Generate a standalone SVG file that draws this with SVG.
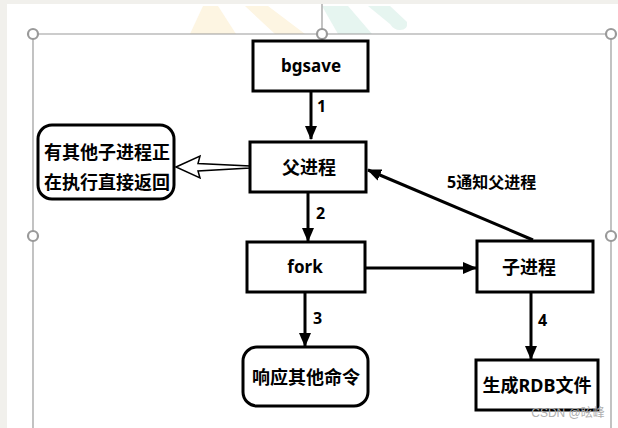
<svg xmlns="http://www.w3.org/2000/svg" width="618" height="428" viewBox="0 0 618 428">
<defs>
<style>
.box{fill:#fff;stroke:#000;stroke-width:3}
.t{font-family:"Noto Sans","Noto Sans CJK SC",sans-serif;font-weight:bold;font-size:17px;fill:#000;text-anchor:middle;dominant-baseline:central}
.c{font-size:18px}
.lbl{font-family:"Noto Sans","Noto Sans CJK SC",sans-serif;font-weight:bold;font-size:16px;fill:#000;dominant-baseline:central}
.ln{stroke:#000;stroke-width:3;fill:none}
.frame{stroke:#9a9a9a;stroke-width:1.2;fill:none}
.hd{fill:#fff;stroke:#9a9a9a;stroke-width:2.2}
</style>
<marker id="ah" viewBox="0 0 14 12" refX="13" refY="6" markerWidth="14" markerHeight="12" markerUnits="userSpaceOnUse" orient="auto">
<path d="M0,0 L14,6 L0,12 Z" fill="#000"/>
</marker>
</defs>
<rect x="0" y="0" width="618" height="428" fill="#f1f0ec"/>
<rect x="7" y="4" width="611" height="424" fill="#fff"/>
<g id="watermark" opacity="0.9">
<polygon points="190,34 203,6 218,6 236,34" fill="#fdf4df"/>
<polygon points="245,6 268,6 305,34 275,34" fill="#fdf4df"/>
<polygon points="322,6 348,6 372,34 338,34" fill="#e4f4ef"/>
<path d="M368,6 L390,6 L407,22 Q408,30 400,30 Q394,30 390,24 Z" fill="#e4f4ef"/>
</g>
<g id="frame">
<line x1="322" y1="4" x2="322" y2="30" class="frame"/>
<line x1="33" y1="34" x2="611" y2="34" class="frame"/>
<line x1="33" y1="34" x2="33" y2="428" class="frame"/>
<line x1="611" y1="34" x2="611" y2="428" class="frame"/>
<circle cx="33" cy="34" r="5" class="hd"/>
<circle cx="322" cy="34" r="5" class="hd"/>
<circle cx="611" cy="34" r="5" class="hd"/>
<circle cx="33" cy="236" r="5" class="hd"/>
<circle cx="611" cy="236" r="5" class="hd"/>
</g>
<g id="connectors">
<line x1="311" y1="91" x2="311" y2="139" class="ln" marker-end="url(#ah)"/>
<text x="317" y="106" class="lbl">1</text>
<line x1="308" y1="192" x2="308" y2="241" class="ln" marker-end="url(#ah)"/>
<text x="316" y="213" class="lbl">2</text>
<line x1="305" y1="292" x2="305" y2="346" class="ln" marker-end="url(#ah)"/>
<text x="313" y="318" class="lbl">3</text>
<line x1="531" y1="292" x2="531" y2="359" class="ln" marker-end="url(#ah)"/>
<text x="538" y="320" class="lbl">4</text>
<line x1="533" y1="240" x2="368" y2="170" class="ln" marker-end="url(#ah)"/>
<line x1="365" y1="268" x2="476" y2="268" class="ln" marker-end="url(#ah)"/>
<text x="447" y="182" class="lbl">5通知父进程</text>
<path d="M176,167 L200,156 L198,163.5 L250,166 L250,168 L198,171 L200,178 Z" fill="#fff" stroke="#000" stroke-width="1.5" stroke-linejoin="miter"/>
</g>
<g id="bgsave">
<rect x="253" y="41" width="115" height="50" class="box"/>
<text x="311" y="65" class="t">bgsave</text>
</g>
<g id="parent">
<rect x="250" y="142" width="116" height="50" class="box"/>
<text x="309" y="167" class="t c">父进程</text>
</g>
<g id="other">
<rect x="38" y="125" width="136" height="74" rx="14" class="box"/>
<text x="107" y="152" class="t c">有其他子进程正</text>
<text x="107" y="182" class="t c">在执行直接返回</text>
</g>
<g id="fork">
<rect x="247" y="242" width="118" height="50" class="box"/>
<text x="305" y="266" class="t">fork</text>
</g>
<g id="child">
<rect x="477" y="241" width="116" height="51" class="box"/>
<text x="529" y="267" class="t c">子进程</text>
</g>
<g id="respond">
<rect x="243" y="347" width="125" height="59" rx="14" class="box"/>
<text x="306" y="377" class="t c">响应其他命令</text>
</g>
<g id="rdb">
<rect x="476" y="360" width="122" height="50" class="box"/>
<text x="537" y="385" class="t c">生成RDB文件</text>
</g>
<text x="568" y="413" font-family="'Liberation Sans','Noto Sans CJK SC',sans-serif" font-size="12" fill="#b0b0b0" text-anchor="middle" dominant-baseline="central">CSDN @昡峰</text>
</svg>
